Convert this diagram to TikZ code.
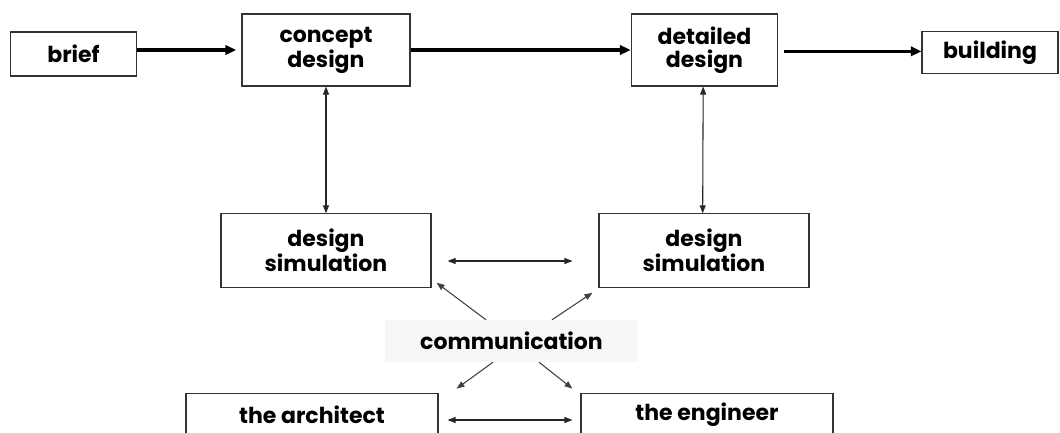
\documentclass[tikz,border=0pt]{standalone}
\usepackage{fontspec}
\setmainfont{Poppins}
\usetikzlibrary{arrows.meta,calc}

\begin{document}
\begin{tikzpicture}[x=0.75pt, y=-0.75pt,
  box/.style={draw=black!80, line width=0.8pt, align=center, inner sep=0pt,
    font=\fontsize{16.5}{17}\selectfont\bfseries},
  flow/.style={-{Triangle[length=8pt,width=7pt]}, line width=2.6pt},
  link/.style={{Triangle[length=6pt,width=4.5pt]}-{Triangle[length=6pt,width=4.5pt]}, line width=0.8pt, black!85},
  talk/.style={-{Triangle[length=6pt,width=4.5pt]}, line width=0.8pt, black!75}]
  \useasboundingbox (0,0) rectangle (1060,432);
  \node[box, minimum width=95pt, minimum height=33pt] (brief) at (73.5,54) {brief};
  \node[box, minimum width=126pt, minimum height=54pt] (concept) at (326,50) {concept\\design};
  \node[box, minimum width=110pt, minimum height=54pt] (detailed) at (704.5,50) {detailed\\design};
  \node[box, minimum width=102pt, minimum height=32pt] (building) at (990,52.5) {building};
  \node[box, minimum width=157.5pt, minimum height=55pt] (simA) at (326,250.5) {design\\simulation};
  \node[box, minimum width=157.5pt, minimum height=55pt] (simB) at (704,250.5) {design\\simulation};
  \node[box, draw=none, fill=black!3, minimum width=190pt, minimum height=31pt] (comm) at (511.5,341) {communication};
  \node[box, minimum width=189pt, minimum height=32pt] (arch) at (312,414.5) {the architect};
  \node[box, minimum width=189pt, minimum height=32pt] (eng) at (707,414.5) {the engineer};
  \draw[flow, shorten >=4pt] (brief.east |- concept) -- (concept.west);
  \draw[flow] (concept) -- (detailed);
  \draw[flow, shorten <=4pt] ([yshift=-1pt]detailed.east) -- ([yshift=-1pt]detailed.east -| building.west);
  \draw[link] (concept) -- (simA);
  \draw[link] ([xshift=-1pt]detailed.south) -- ([xshift=-1pt]simB.north);
  \draw[link] ($(simA.east)+(16,10.5)$) -- ($(simB.west)+(-26,10.5)$);
  \draw[link] ($(arch.east)+(9,5.5)$) -- ($(eng.west)+(-8,5.5)$);
  \draw[talk] ($(comm.north)+(-25.5,0)$) -- ($(simA.south east)+(5,-5)$);
  \draw[talk] ($(comm.north)+(40.5,0)$) -- ($(simB.south west)+(-6,5)$);
  \draw[talk] ($(comm.south)+(-18.5,0)$) -- ($(arch.north east)+(18,-4)$);
  \draw[talk] ($(comm.south)+(27.5,0)$) -- ($(eng.north west)+(-8,-4)$);
\end{tikzpicture}
\end{document}
